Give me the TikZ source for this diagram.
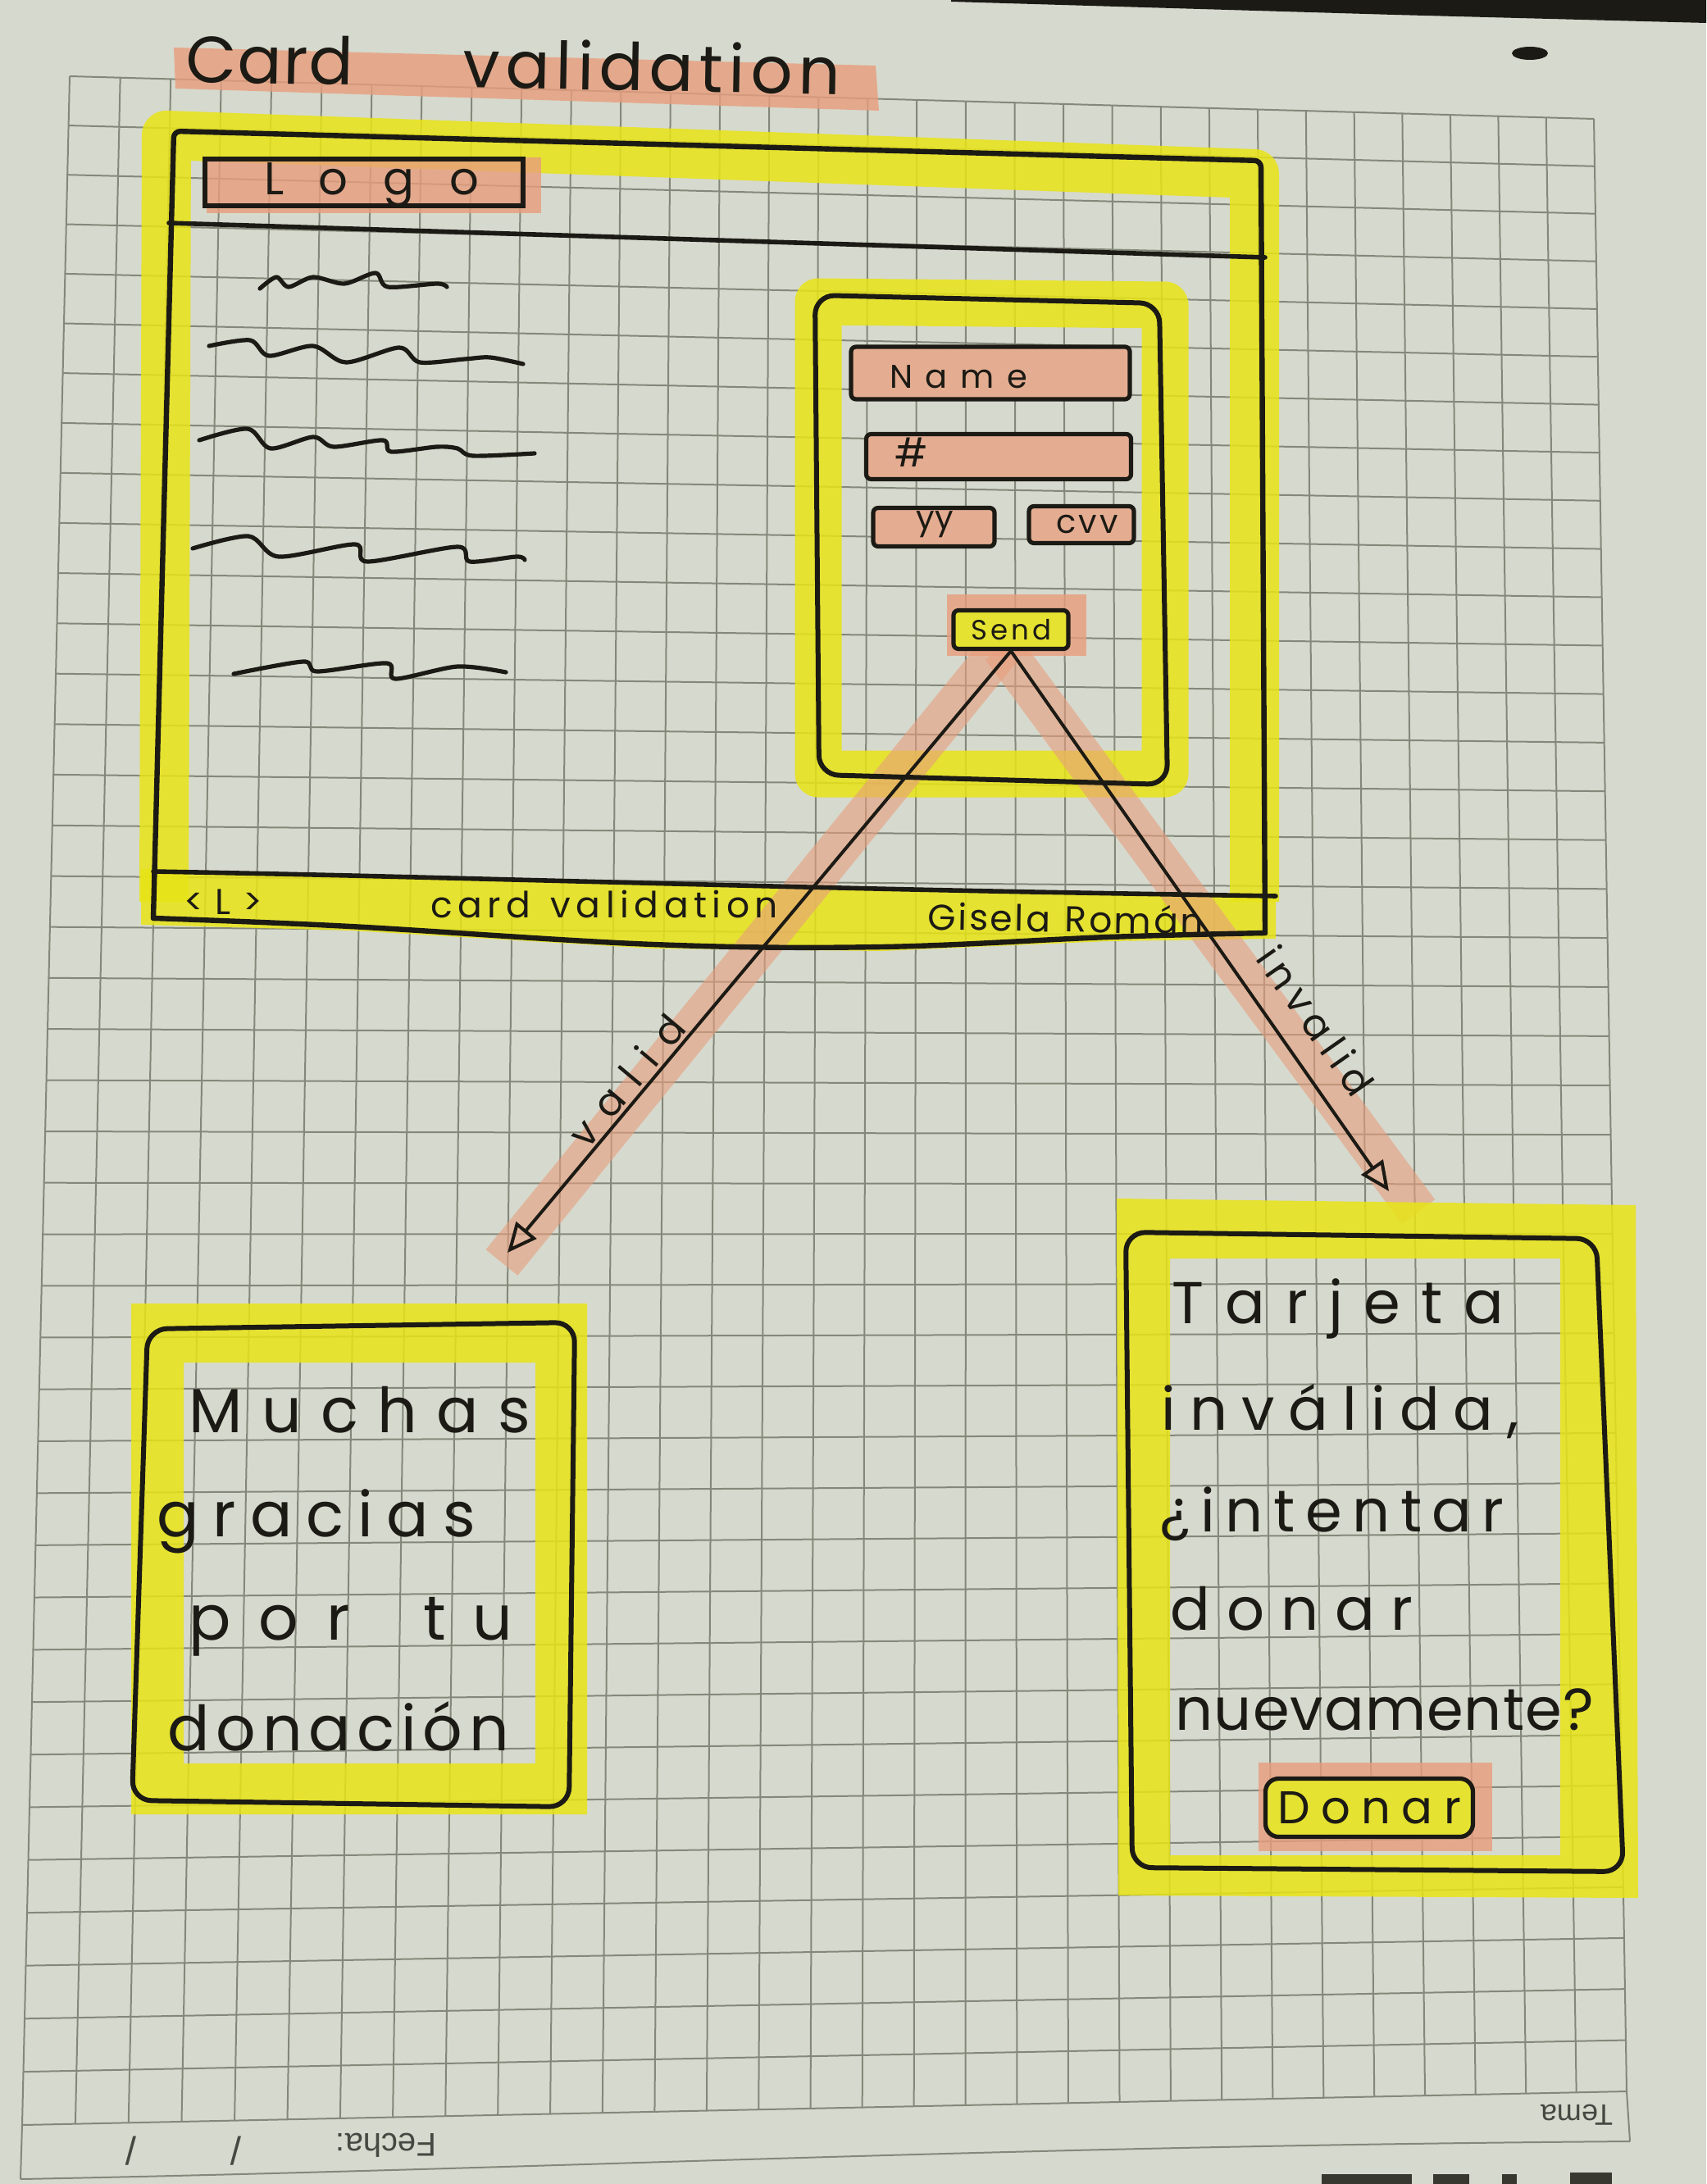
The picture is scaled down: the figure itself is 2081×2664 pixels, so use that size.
\documentclass[tikz,border=0pt]{standalone}
\usepackage{fontspec}
\setmainfont{Poppins}
\newfontfamily\printfont{Liberation Sans}
\usetikzlibrary{calc,arrows.meta}

\definecolor{paper}{RGB}{214,217,205}
\definecolor{gridc}{RGB}{132,136,122}
\definecolor{hly}{RGB}{232,228,22}
\definecolor{hls}{RGB}{232,158,125}
\definecolor{ink}{RGB}{28,26,20}
\definecolor{printc}{RGB}{70,72,66}

% spread the letters of a word over a given width
\def\spreadA#1{#1\spreadB}
\def\spreadB#1{\ifx#1\relax\else\hfill#1\expandafter\spreadB\fi}
\newcommand\spreadto[2]{\hbox to #1{\spreadA#2\relax}}

\tikzset{
  inkline/.style={draw=ink, line width=1.4pt, line join=round, line cap=round},
  gridline/.style={draw=gridc, line width=0.5pt},
  yband/.style={draw=hly, line width=15pt, opacity=0.85, line join=round},
  sband/.style={draw=hls, line width=12.5pt, opacity=0.6},
  field/.style={draw=ink, line width=1.3pt, fill=hls!75!paper, rounded corners=1.5pt, inner sep=0pt},
  hw/.style={text=ink, inner sep=0pt},
  printtxt/.style={text=printc, inner sep=0pt, font=\printfont\fontsize{9}{11}\selectfont},
  arrowline/.style={draw=ink, line width=1pt, -{Triangle[open, length=9pt, width=8pt, line width=1pt]}},
  wave/.style={draw=ink, line width=1.3pt, line cap=round, line join=round},
}

\begin{document}
\begin{tikzpicture}[x=0.25pt,y=-0.25pt]
\fill[paper] (0,0) rectangle (2081,2664);
\useasboundingbox (0,0) rectangle (2081,2664);

% dark strip at the top right edge of the photo
\fill[ink] (1160,0) -- (2081,0) -- (2081,28) -- (1700,18) -- (1160,2) -- cycle;
% ink blob
\fill[ink] (1866,65) ellipse [x radius=5.5pt, y radius=2pt];

% ---------- grid paper ----------
\coordinate (gTL) at (85,93);
\coordinate (gTR) at (1944,145);
\coordinate (gBL) at (27,2592);
\coordinate (gBR) at (1984,2551);
\foreach \i in {0,...,31}{
  \pgfmathsetmacro\u{\i/31 + 0.03*(\i/31)*(1-\i/31)}
  \draw[gridline] ($(gTL)!\u!(gTR)$) -- ($(gBL)!\u!(gBR)$);
}
\foreach \j in {0,...,40}{
  \pgfmathsetmacro\v{\j/40 - 0.04*(\j/40)*(1-\j/40)}
  \draw[gridline] ($(gTL)!\v!(gBL)$) -- ($(gTR)!\v!(gBR)$);
}
% printed footer of the sheet
\draw[gridline] (gBL) -- (25,2658);
\draw[gridline] (gBR) -- (1988,2612);
\draw[gridline] (25,2658) .. controls (700,2645) and (1200,2618) .. (1988,2612);
\node[printtxt, rotate=180] (tema) at (1923,2580) {Tema};
\node[printtxt, rotate=180, font=\printfont\fontsize{10}{12}\selectfont] (fecha) at (471,2617) {Fecha:};
\node[printtxt, rotate=180, font=\printfont\fontsize{12}{14}\selectfont] (slashA) at (160,2624) {/};
\node[printtxt, rotate=180, font=\printfont\fontsize{12}{14}\selectfont] (slashB) at (288,2624) {/};
% brand print cut by the bottom edge
\fill[ink!85!paper] (1612,2652) rectangle (1722,2664);
\fill[ink!85!paper] (1748,2652) rectangle (1792,2664);
\fill[ink!85!paper] (1832,2652) rectangle (1850,2664);
\fill[ink!85!paper] (1915,2650) -- (1966,2650) -- (1966,2664) -- (1915,2664) -- cycle;

% ---------- highlighter ----------
% title
\fill[hls, opacity=0.8] (212,58) -- (1068,80) -- (1072,135) -- (214,108) -- cycle;
% main window frame
\draw[yband] (200,1100) -- (203,165) -- (1530,212) -- (1530,1100);
\fill[hly, opacity=0.85] (172,1060) -- (600,1070) -- (1000,1083) -- (1556,1090) -- (1556,1145)
  -- (1352,1148) -- (1075,1160) -- (797,1157) -- (427,1135) -- (172,1128) -- cycle;
% logo
\fill[hls, opacity=0.8] (252,192) rectangle (660,260);
% form panel
\draw[yband, line width=14.25pt] (998,368) -- (1421,372) -- (1421,944) -- (998,944) -- cycle;
% send
\fill[hls, opacity=0.8] (1155,725) rectangle (1325,800);
% arrow bands
\draw[sband] (1222,790) -- (612,1540);
\draw[sband] (1222,790) -- (1730,1478);
% result screens
\fill[hly, opacity=0.85, even odd rule]
  (160,1590) -- (716,1590) -- (716,2213) -- (160,2213) -- cycle
  (224,1662) -- (653,1662) -- (653,2151) -- (224,2151) -- cycle;
\fill[hly, opacity=0.85, even odd rule]
  (1362,1462) -- (1995,1470) -- (1998,2315) -- (1364,2312) -- cycle
  (1427,1535) -- (1903,1535) -- (1903,2263) -- (1427,2263) -- cycle;
\fill[hls, opacity=0.8] (1535,2150) rectangle (1820,2258);

% ---------- ink ----------
\node[hw, anchor=base west, rotate=-1.1, font=\fontsize{20}{24}\selectfont] (title) at (226,100)
  {\hbox to 199.5pt{\spreadto{51pt}{Card}\hfill\spreadto{115pt}{validation}}};

% main window
\draw[inkline, line width=1.6pt, rounded corners=2pt] (187,1120) -- (212,160) -- (1538,196) -- (1543,1138);
\draw[inkline, line width=1.6pt] plot[smooth, tension=0.6] coordinates {(187,1120) (427,1130) (797,1152) (1075,1155) (1352,1143) (1543,1138)};
\draw[inkline] (206,272) -- (1543,314);
\draw[inkline] plot[smooth] coordinates {(187,1063) (427,1068) (982,1082) (1260,1088) (1556,1093)};

\node[draw=ink, line width=1.5pt, minimum width=97pt, minimum height=14.25pt, inner sep=0pt] (logobox) at (444,223) {};
\node[hw, font=\fontsize{14}{16}\selectfont] (logotxt) at (453,226) {\spreadto{65.5pt}{Logo}};

% text placeholder waves
\draw[wave] plot[smooth, tension=0.5] coordinates {(317,352) (337,338) (352,350) (382,338) (420,346) (458,333) (473,350) (533,346) (545,350)};
\draw[wave] plot[smooth, tension=0.5] coordinates {(255,422) (305,415) (328,434) (382,422) (422,442) (487,424) (512,442) (567,438) (598,436) (638,444)};
\draw[wave] plot[smooth, tension=0.5] coordinates {(243,537) (302,523) (330,547) (382,533) (407,545) (467,537) (477,551) (533,545) (558,547) (577,556) (652,553)};
\draw[wave] plot[smooth, tension=0.5] coordinates {(235,669) (303,654) (340,679) (433,664) (448,685) (558,667) (573,685) (630,679) (640,683)};
\draw[wave] plot[smooth, tension=0.5] coordinates {(285,822) (370,807) (387,819) (472,809) (482,828) (558,813) (617,820)};

% form panel
\draw[inkline, line width=1.5pt, rounded corners=6pt] (994,360) -- (1414,370) -- (1424,957) -- (999,945) -- cycle;
\node[field, minimum width=85pt, minimum height=16pt] (namebox) at (1208,455) {};
\node[hw, font=\fontsize{10}{12}\selectfont] (nametxt) at (1169,460) {\spreadto{42pt}{Name}};
\node[field, minimum width=80.75pt, minimum height=13.75pt] (numbox) at (1218,557) {};
\node[hw, font=\fontsize{12}{14}\selectfont] (numtxt) at (1112,552) {\#};
\node[field, minimum width=37pt, minimum height=11.75pt] (yybox) at (1139,643) {};
\node[hw, font=\fontsize{10}{12}\selectfont] (yytxt) at (1140,640) {yy};
\node[field, minimum width=32pt, minimum height=11.25pt] (cvvbox) at (1319,640) {};
\node[hw, font=\fontsize{10}{12}\selectfont] (cvvtxt) at (1326,640) {\spreadto{19pt}{cvv}};
\node[field, fill=hly!85!paper, minimum width=35pt, minimum height=11.75pt, font=\fontsize{8.5}{10}\selectfont, text=ink] (send) at (1233,768) {\spreadto{24.5pt}{Send}};

% footer texts
\node[hw, font=\fontsize{11}{13}\selectfont] (footL) at (272,1100) {\spreadto{24pt}{<L>}};
\node[hw, font=\fontsize{11}{13}\selectfont] (footcard) at (737,1103) {\spreadto{106pt}{card~validation}};
\node[hw, rotate=-1, font=\fontsize{11}{13}\selectfont] (footname) at (1300,1120) {\spreadto{84pt}{Gisela~Román}};

% arrows
\coordinate (validtip) at (619,1528);
\coordinate (invalidtip) at (1694,1453);
\draw[arrowline] (send.south) -- (validtip);
\draw[arrowline] (send.south) -- (invalidtip);
\node[hw, rotate=50, font=\fontsize{12}{14}\selectfont\addfontfeature{LetterSpace=40}] (validlbl) at (764,1318) {valid};
\node[hw, rotate=-55, font=\fontsize{12}{14}\selectfont\addfontfeature{LetterSpace=18}] (invalidlbl) at (1605,1245) {invalid};

% success screen
\draw[inkline, line width=1.5pt, rounded corners=6pt] (180,1621) -- (701,1613) -- (694,2204) -- (161,2196) -- cycle;
\node[hw, anchor=base west, font=\fontsize{19}{22}\selectfont] (okA) at (230,1747) {\spreadto{104pt}{Muchas}};
\node[hw, anchor=base west, font=\fontsize{19}{22}\selectfont] (okB) at (191,1874) {\spreadto{97pt}{gracias}};
\node[hw, anchor=base west, font=\fontsize{19}{22}\selectfont] (okC) at (230,2000) {\hbox to 98.5pt{\spreadto{49pt}{por}\hfill\spreadto{27pt}{tu}}};
\node[hw, anchor=base west, font=\fontsize{19}{22}\selectfont] (okD) at (204,2135) {\spreadto{104pt}{donación}};

% failure screen
\draw[inkline, line width=1.5pt, rounded corners=6pt] (1373,1503) -- (1947,1511) -- (1980,2283) -- (1381,2278) -- cycle;
\node[hw, anchor=base west, font=\fontsize{18}{21}\selectfont] (koA) at (1429,1614) {\spreadto{101pt}{Tarjeta}};
\node[hw, anchor=base west, font=\fontsize{18}{21}\selectfont] (koB) at (1416,1744) {\spreadto{109pt}{inválida,}};
\node[hw, anchor=base west, font=\fontsize{18}{21}\selectfont] (koC) at (1414,1868) {\spreadto{105pt}{¿intentar}};
\node[hw, anchor=base west, font=\fontsize{18}{21}\selectfont] (koD) at (1427,1988) {\spreadto{74pt}{donar}};
\node[hw, anchor=base west, font=\fontsize{18}{21}\selectfont] (koE) at (1433,2110) {\spreadto{127.5pt}{nuevamente?}};
\node[field, fill=hly!85!paper, rounded corners=4pt, minimum width=63.25pt, minimum height=17.75pt, font=\fontsize{14}{16}\selectfont, text=ink] (donar) at (1670,2205) {\spreadto{56pt}{Donar}};
\end{tikzpicture}
\end{document}
